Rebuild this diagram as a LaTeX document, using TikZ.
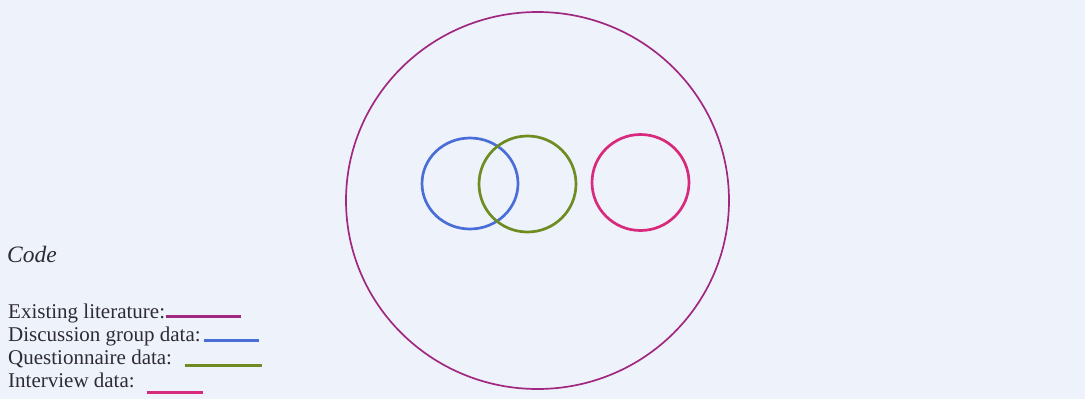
\documentclass[tikz,border=0pt]{standalone}
\usepackage{fontspec}
\setmainfont{Liberation Serif}
\definecolor{bg}{HTML}{EEF3FB}
\definecolor{txt}{HTML}{2E2A38}
\definecolor{litcol}{HTML}{A02880}
\definecolor{disccol}{HTML}{4A6ED8}
\definecolor{quescol}{HTML}{6E8C22}
\definecolor{intcol}{HTML}{D82A7C}
\tikzset{
  legtext/.style={anchor=base west, inner sep=0pt, text=txt, font=\fontsize{21}{23}\selectfont},
  bigring/.style={draw=litcol, line width=1.7pt},
  ring/.style={line width=2.7pt},
  keyline/.style={line width=3pt}
}
\begin{document}
\begin{tikzpicture}[x=1pt,y=-1pt]
\fill[bg] (0,0) rectangle (1085,399);
\useasboundingbox (0,0) rectangle (1085,399);
% circles
\draw[bigring] (537.5,200.5) circle[x radius=191.5, y radius=188.5];
\draw[ring, draw=disccol] (470,183.5) circle[x radius=48, y radius=45.5];
\draw[ring, draw=quescol] (527.5,184) circle[x radius=48.5, y radius=48];
\draw[ring, draw=intcol] (640.5,182.5) circle[x radius=48.5, y radius=48];
% legend
\node[legtext, font=\fontsize{23.5}{25}\selectfont\itshape] (code) at (7,262) {Code};
\node[legtext] (lit) at (8,318) {Existing literature:};
\node[legtext] (disc) at (8,341.5) {Discussion group data:};
\node[legtext] (ques) at (8,364) {Questionnaire data:};
\node[legtext] (int) at (8,387) {Interview data:};
\coordinate (l1a) at (166,316); \coordinate (l1b) at (241,316);
\coordinate (l2a) at (204,340); \coordinate (l2b) at (259,340);
\coordinate (l3a) at (185,365); \coordinate (l3b) at (262,365);
\coordinate (l4a) at (147,392); \coordinate (l4b) at (203,392);
\draw[keyline, draw=litcol] (l1a) -- (l1b);
\draw[keyline, draw=disccol] (l2a) -- (l2b);
\draw[keyline, draw=quescol] (l3a) -- (l3b);
\draw[keyline, draw=intcol] (l4a) -- (l4b);
\end{tikzpicture}
\end{document}
